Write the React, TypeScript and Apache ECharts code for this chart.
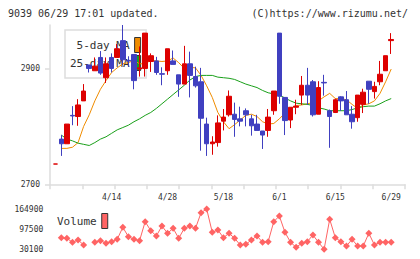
import React, { useEffect, useRef } from 'react';
import * as echarts from 'echarts';

const dates = [
  '3/31', '4/1', '4/2', '4/3', '4/6', '4/7', '4/8', '4/9', '4/10', '4/13',
  '4/14', '4/15', '4/16', '4/17', '4/20', '4/21', '4/22', '4/23', '4/24', '4/27',
  '4/28', '4/30', '5/1', '5/7', '5/8', '5/11', '5/12', '5/13', '5/14', '5/15',
  '5/18', '5/19', '5/20', '5/21', '5/22', '5/25', '5/26', '5/27', '5/28', '5/29',
  '6/1', '6/2', '6/3', '6/4', '6/5', '6/8', '6/9', '6/10', '6/11', '6/12',
  '6/15', '6/16', '6/17', '6/18', '6/19', '6/22', '6/23', '6/24', '6/25', '6/26',
  '6/29',
];

const opens = [
  2735, 2778, 2770, 2819, 2817, 2844, 2906, 2896, 2919, 2884,
  2919, 2919, 2948, 2914, 2924, 2899, 2900, 2912, 2913, 2891,
  2896, 2913, 2889, 2873, 2908, 2886, 2877, 2804, 2770, 2772,
  2809, 2820, 2821, 2813, 2827, 2813, 2804, 2792, 2793, 2827,
  2961, 2850, 2811, 2833, 2854, 2871, 2877, 2821, 2876, 2827,
  2824, 2851, 2846, 2821, 2815, 2838, 2878, 2860, 2877, 2896,
  2948,
];
const closes = [
  2735, 2770, 2804, 2818, 2837, 2861, 2900, 2904, 2892, 2908,
  2900, 2934, 2915, 2913, 2879, 2901, 2961, 2922, 2893, 2890,
  2934, 2907, 2873, 2908, 2888, 2870, 2814, 2770, 2773, 2806,
  2816, 2852, 2812, 2809, 2820, 2801, 2793, 2785, 2816, 2861,
  2852, 2810, 2833, 2835, 2871, 2854, 2820, 2867, 2875, 2817,
  2846, 2844, 2820, 2808, 2854, 2859, 2864, 2869, 2890, 2922,
  2950,
];
const lows = [
  2735, 2749, 2770, 2802, 2801, 2844, 2893, 2896, 2889, 2875,
  2893, 2919, 2906, 2903, 2864, 2886, 2886, 2894, 2889, 2871,
  2889, 2907, 2851, 2873, 2850, 2867, 2758, 2749, 2751, 2765,
  2793, 2817, 2782, 2800, 2800, 2784, 2793, 2761, 2782, 2820,
  2839, 2785, 2797, 2821, 2837, 2837, 2817, 2821, 2853, 2763,
  2823, 2827, 2820, 2796, 2808, 2823, 2839, 2848, 2871, 2896,
  2925,
];
const highs = [
  2735, 2785, 2804, 2835, 2847, 2873, 2906, 2919, 2930, 2919,
  2926, 2942, 2975, 2921, 2924, 2938, 2961, 2926, 2920, 2902,
  2934, 2931, 2889, 2939, 2929, 2903, 2901, 2815, 2783, 2819,
  2830, 2862, 2841, 2834, 2831, 2820, 2820, 2792, 2830, 2861,
  2961, 2850, 2833, 2846, 2887, 2901, 2880, 2878, 2889, 2829,
  2848, 2852, 2861, 2835, 2854, 2865, 2878, 2877, 2913, 2922,
  2961,
];

const ma5 = [
  null, 2762, 2762, 2764, 2772, 2800, 2820, 2844, 2864, 2879,
  2893, 2901, 2908, 2910, 2914, 2908, 2908, 2914, 2913, 2912,
  2913, 2918, 2910, 2900, 2902, 2901, 2888, 2870, 2850, 2824,
  2808, 2796, 2803, 2811, 2819, 2821, 2817, 2808, 2804, 2805,
  2813, 2823, 2831, 2836, 2837, 2839, 2841, 2844, 2851, 2857,
  2848, 2848, 2846, 2838, 2831, 2837, 2839, 2844, 2857, 2877,
  2899,
];
const ma25 = [
  null, 2785, 2778, 2775, 2771, 2769, 2767, 2772, 2778, 2782,
  2788, 2794, 2798, 2802, 2808, 2813, 2819, 2824, 2831, 2839,
  2847, 2855, 2863, 2871, 2880, 2886, 2888, 2888, 2888, 2885,
  2884, 2883, 2881, 2877, 2873, 2870, 2867, 2862, 2858, 2856,
  2854, 2849, 2844, 2840, 2839, 2838, 2836, 2832, 2830, 2827,
  2827, 2827, 2827, 2829, 2832, 2834, 2835, 2835, 2839, 2844,
  2848,
];
const volumes = [
  null, 69100, 66900, 53500, 61300, 44600, null, 53500, 59100, 50200,
  55700, 63500, 103600, 72400, 63500, 59100, 122600, 92500, 74700, 108100,
  83600, 100300, 66900, 100300, 108100, 100300, 152600, 164900, 86900, 94700,
  69100, 83600, 66900, 44600, 46800, 61300, 74700, 53500, 55700, 122600,
  141500, 86900, 53500, 36800, 50200, 55700, 78000, 53500, 30100, 130400,
  69100, 55700, 41200, 63500, 41200, 41200, 83600, 44600, 53500, 53500,
  53500,
];

const priceTicks = [2700, 2900];
const volumeTicks = [30100, 97500, 164900];
const frameTicks = [0, 1, 2, 3, 4, 5, 6, 7, 8, 9, 10, 11];

const MONO = '"DejaVu Sans Mono", monospace';
const RED = '#dd0000';
const BLUE = '#4040c0';
const ORANGE = '#f08c00';
const GREEN = '#1aa01a';
const VOL = '#ff6464';
const AXIS = '#dddddd';

const plain = (v: number) => String(v);

export default function App() {
  const ref = useRef<HTMLDivElement>(null);
  useEffect(() => {
    const chart = echarts.init(ref.current!, null, { renderer: 'svg' });
    const ohlc = dates.map((_, i) => [opens[i], closes[i], lows[i], highs[i]]);
    const option: any = {
      animation: false,
      backgroundColor: '#ffffff',
      graphic: [
        {
          type: 'text', x: 8, y: 13,
          style: { text: '9039 06/29 17:01 updated.', fill: '#333', font: '10px ' + MONO, align: 'left', verticalAlign: 'middle' },
        },
        {
          type: 'text', x: 408, y: 13,
          style: { text: '(C)https://www.rizumu.net/', fill: '#333', font: '10px ' + MONO, align: 'right', verticalAlign: 'middle' },
        },
      ],
      legend: [
        {
          data: ['5-day MA', '25-day MA'],
          orient: 'vertical', left: 65, top: 30, align: 'right',
          icon: 'rect', itemWidth: 6, itemHeight: 15, itemGap: 2,
          padding: [7, 5, 7, 5],
          borderColor: '#dddddd', borderWidth: 1.5,
          textStyle: { fontFamily: MONO, fontSize: 11, color: '#333' },
          itemStyle: { borderColor: '#333', borderWidth: 1 },
          selectedMode: false, z: 1,
        },
        {
          data: ['Volume'],
          orient: 'vertical', left: 57, top: 213, align: 'right',
          icon: 'rect', itemWidth: 6, itemHeight: 15,
          padding: 0,
          textStyle: { fontFamily: MONO, fontSize: 11, color: '#333' },
          itemStyle: { borderColor: '#333', borderWidth: 1 },
          selectedMode: false, z: 1,
        },
      ],
      grid: [
        { left: 52.9, top: 25, width: 341.1, height: 159.3 },
        { left: 50, top: 25, width: 355, height: 159.3 },
        { left: 52.9, top: 209, width: 341.1, height: 40.3 },
      ],
      xAxis: [
        {
          type: 'category', gridIndex: 0, data: dates, boundaryGap: true,
          axisLine: { show: false }, axisTick: { show: false }, splitLine: { show: false },
          axisLabel: {
            interval: (i: number) => i > 0 && i % 10 === 0,
            margin: 9, fontSize: 8, fontFamily: MONO, color: '#333',
          },
        },
        {
          type: 'value', gridIndex: 1, min: 0, max: 11, interval: 1,
          axisLine: { show: true, lineStyle: { color: AXIS, width: 1.5 } },
          axisTick: { show: true, length: 5, customValues: frameTicks, lineStyle: { color: AXIS, width: 1.5 } },
          axisLabel: { show: false }, splitLine: { show: false },
        },
        {
          type: 'category', gridIndex: 2, data: dates, boundaryGap: true, show: false,
        },
      ],
      yAxis: [
        { type: 'value', gridIndex: 0, min: 2700, max: 2975, show: false, splitLine: { show: false } },
        {
          type: 'value', gridIndex: 1, min: 2700, max: 2975,
          axisLine: { show: true, lineStyle: { color: AXIS, width: 1.5 } },
          axisTick: { show: true, length: 5, customValues: priceTicks, lineStyle: { color: AXIS, width: 1.5 } },
          axisLabel: { customValues: priceTicks, formatter: plain, margin: 10, fontSize: 8, fontFamily: MONO, color: '#333' },
          splitLine: { show: false },
        },
        {
          type: 'value', gridIndex: 2, min: 30100, max: 164900,
          axisLine: { show: false }, axisTick: { show: false },
          axisLabel: { customValues: volumeTicks, formatter: plain, margin: 9.6, fontSize: 8, fontFamily: MONO, color: '#333' },
          splitLine: { show: false },
        },
      ],
      series: [
        {
          name: '5-day MA', type: 'line', xAxisIndex: 0, yAxisIndex: 0, data: ma5,
          symbol: 'none', lineStyle: { color: ORANGE, width: 1 }, itemStyle: { color: ORANGE }, z: 2,
        },
        {
          name: '25-day MA', type: 'line', xAxisIndex: 0, yAxisIndex: 0, data: ma25,
          symbol: 'none', lineStyle: { color: GREEN, width: 1 }, itemStyle: { color: GREEN }, z: 2,
        },
        {
          name: 'Price', type: 'candlestick', xAxisIndex: 0, yAxisIndex: 0, data: ohlc,
          barWidth: 5,
          itemStyle: { color: RED, color0: BLUE, borderColor: RED, borderColor0: BLUE, borderWidth: 1 },
          z: 3,
        },
        {
          name: 'Volume', type: 'line', xAxisIndex: 2, yAxisIndex: 2, data: volumes,
          symbol: 'diamond', symbolSize: 7, showSymbol: true, showAllSymbol: true, connectNulls: false,
          lineStyle: { color: VOL, width: 1 }, itemStyle: { color: VOL }, z: 2,
        },
      ],
    };
    chart.setOption(option);
    return () => chart.dispose();
  }, []);
  return <div ref={ref} style={{ position: 'fixed', left: 0, top: 0, width: 420, height: 259 }} />;
}
